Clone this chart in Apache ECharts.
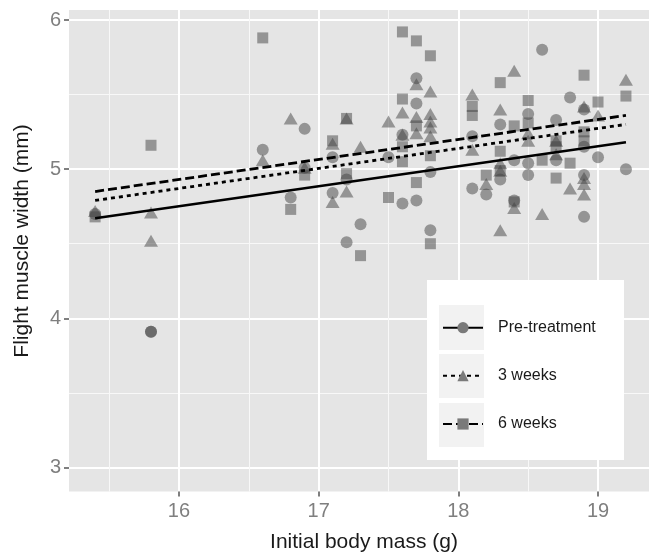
<!DOCTYPE html>
<html>
<head>
<meta charset="utf-8">
<script src="https://cdn.jsdelivr.net/npm/echarts@6/dist/echarts.min.js"></script>
<style>
html,body{margin:0;padding:0;background:#fff;}
#chart{width:649px;height:556px;}
</style>
</head>
<body>
<div id="chart"></div>
<script>
// ---- data ----
const seriesNames = ['Pre-treatment', '3 weeks', '6 weeks'];
const xTicks = [16, 17, 18, 19];
const yTicks = [3, 4, 5, 6];
const xMinor = [15.5, 16.5, 17.5, 18.5];
const yMinor = [3.5, 4.5, 5.5];

const preData = [
  [15.4,4.70],[15.8,3.91],[15.8,3.91],[16.6,5.13],[16.8,4.81],[16.9,5.27],[16.9,5.01],
  [17.1,5.08],[17.1,4.84],[17.2,4.93],[17.2,4.51],[17.3,4.63],[17.5,5.08],
  [17.6,5.23],[17.6,4.77],[17.7,5.61],[17.7,5.44],[17.7,4.79],[17.8,4.98],[17.8,4.59],
  [18.1,5.22],[18.1,4.87],[18.2,4.83],[18.3,5.30],[18.3,4.93],[18.4,5.06],[18.4,4.79],
  [18.5,5.37],[18.5,5.04],[18.5,4.96],[18.6,5.80],[18.7,5.33],[18.7,5.06],[18.8,5.48],
  [18.9,5.40],[18.9,5.15],[18.9,4.96],[18.9,4.68],[19.0,5.08],[19.2,5.00]
];
const week3Data = [
  [15.4,4.72],[15.8,4.71],[15.8,4.52],[16.6,5.06],[16.8,5.34],[16.9,5.01],
  [17.1,5.17],[17.1,4.78],[17.2,5.34],[17.2,4.85],[17.3,5.15],[17.5,5.32],
  [17.6,5.38],[17.6,5.23],[17.7,5.57],[17.7,5.35],[17.7,5.24],
  [17.8,5.52],[17.8,5.37],[17.8,5.32],[17.8,5.28],[17.8,5.22],
  [18.1,5.50],[18.1,5.13],[18.2,4.90],[18.3,5.40],[18.3,5.04],[18.3,4.99],[18.3,4.59],
  [18.4,5.66],[18.4,4.74],[18.5,5.24],[18.5,5.19],[18.6,4.70],[18.7,5.19],[18.7,5.10],
  [18.8,4.87],[18.9,5.42],[18.9,4.94],[18.9,4.90],[18.9,4.83],[19.0,5.36],[19.2,5.60]
];
const week6Data = [
  [15.4,4.68],[15.8,5.16],[16.6,5.88],[16.8,4.73],[16.9,4.96],[17.1,5.19],
  [17.2,5.34],[17.2,4.97],[17.3,4.42],[17.5,4.81],
  [17.6,5.92],[17.6,5.47],[17.6,5.15],[17.6,5.05],[17.7,5.86],[17.7,5.29],[17.7,4.91],
  [17.8,5.76],[17.8,5.09],[17.8,4.50],[18.1,5.42],[18.1,5.36],[18.2,4.96],
  [18.3,5.58],[18.3,5.12],[18.3,4.99],[18.4,5.29],[18.4,4.78],[18.5,5.46],[18.5,5.31],
  [18.6,5.06],[18.7,5.19],[18.7,5.15],[18.7,4.94],[18.8,5.04],
  [18.9,5.63],[18.9,5.25],[18.9,5.19],[19.0,5.45],[19.2,5.49]
];
// fitted lines (end points)
const preFit = [[15.4,4.67],[19.2,5.18]];
const week3Fit = [[15.4,4.79],[19.2,5.30]];
const week6Fit = [[15.4,4.85],[19.2,5.36]];

// ---- chart ----
const FONT = 'Liberation Sans, Arial, Helvetica, sans-serif';
const xMin = 15.213, xMax = 19.365, yMin = 2.838, yMax = 6.067;
const pointColor = 'rgba(64,64,64,0.62)';

const chart = echarts.init(document.getElementById('chart'), null, {renderer: 'canvas'});

function majorAxis(min, max, ticks, isX) {
  return {
    type: 'value', min: min, max: max,
    position: isX ? 'bottom' : 'left',
    axisLine: {show: false},
    axisTick: {show: true, customValues: ticks, length: 5, lineStyle: {color: '#7f7f7f', width: 2}},
    axisLabel: {show: true, customValues: ticks, color: '#7f7f7f', fontSize: 20, fontFamily: FONT,
                margin: isX ? 10 : 8},
    splitLine: {show: true, lineStyle: {color: '#ffffff', width: 2}}
  };
}
function minorAxis(min, max, ticks, isX) {
  return {
    type: 'value', min: min, max: max,
    position: isX ? 'bottom' : 'left',
    axisLine: {show: false},
    axisTick: {show: false, customValues: ticks},
    axisLabel: {show: false},
    splitLine: {show: true, lineStyle: {color: '#f8f8f8', width: 1}}
  };
}

function legendAt(name, top) {
  return {
    data: [name], orient: 'vertical', left: 442, top: top, padding: 0,
    itemWidth: 40, itemHeight: 14, z: 10,
    selectedMode: false,
    textStyle: {fontFamily: FONT, fontSize: 16, color: '#1a1a1a', lineHeight: 16, padding: [0, 0, 0, 10]}
  };
}

const option = {
  animation: false,
  backgroundColor: '#ffffff',
  grid: {left: 69, right: 0, top: 10, bottom: 64.4, show: true, backgroundColor: '#e5e5e5', borderWidth: 0,
         containLabel: false, outerBoundsMode: 'none'},
  xAxis: [minorAxis(xMin, xMax, xMinor, true), majorAxis(xMin, xMax, xTicks, true)],
  yAxis: [minorAxis(yMin, yMax, yMinor, false), majorAxis(yMin, yMax, yTicks, false)],
  legend: [
    legendAt(seriesNames[0], 319.7),
    legendAt(seriesNames[1], 367.7),
    legendAt(seriesNames[2], 416)
  ],
  graphic: [
    {type: 'rect', z: 5, shape: {x: 427, y: 280, width: 197, height: 180}, style: {fill: '#ffffff'}},
    {type: 'rect', z: 6, shape: {x: 439, y: 305, width: 45, height: 45}, style: {fill: '#f2f2f2'}},
    {type: 'rect', z: 6, shape: {x: 439, y: 354, width: 45, height: 44}, style: {fill: '#f2f2f2'}},
    {type: 'rect', z: 6, shape: {x: 439, y: 403, width: 45, height: 44}, style: {fill: '#f2f2f2'}},
    {type: 'text', z: 6, x: 364, y: 542, style: {text: 'Initial body mass (g)', font: '21px ' + FONT, fill: '#1a1a1a', textAlign: 'center', textVerticalAlign: 'middle'}},
    {type: 'text', z: 6, x: 22, y: 241, rotation: Math.PI / 2, style: {text: 'Flight muscle width (mm)', font: '21px ' + FONT, fill: '#1a1a1a', textAlign: 'center', textVerticalAlign: 'middle'}}
  ],
  series: [
    {name: seriesNames[0], type: 'line', xAxisIndex: 1, yAxisIndex: 1, data: preFit, z: 4,
     symbol: 'circle', symbolSize: 11, showSymbol: false,
     itemStyle: {color: '#7a7a7a'}, lineStyle: {color: '#000', width: 2.5, type: 'solid'}},
    {name: seriesNames[1], type: 'line', xAxisIndex: 1, yAxisIndex: 1, data: week3Fit, z: 4,
     symbol: 'triangle', symbolSize: [14, 12], showSymbol: false,
     itemStyle: {color: '#7a7a7a'}, lineStyle: {color: '#000', width: 2.8, type: [4, 4]}},
    {name: seriesNames[2], type: 'line', xAxisIndex: 1, yAxisIndex: 1, data: week6Fit, z: 4,
     symbol: 'rect', symbolSize: 11, showSymbol: false,
     itemStyle: {color: '#7a7a7a'}, lineStyle: {color: '#000', width: 2.8, type: [9, 4]}},
    {name: seriesNames[0], type: 'scatter', xAxisIndex: 1, yAxisIndex: 1, data: preData, z: 2,
     symbol: 'circle', symbolSize: 12, itemStyle: {color: pointColor}},
    {name: seriesNames[1], type: 'scatter', xAxisIndex: 1, yAxisIndex: 1, data: week3Data, z: 2,
     symbol: 'triangle', symbolSize: [14, 12], itemStyle: {color: pointColor}},
    {name: seriesNames[2], type: 'scatter', xAxisIndex: 1, yAxisIndex: 1, data: week6Data, z: 2,
     symbol: 'rect', symbolSize: 11, itemStyle: {color: pointColor}}
  ]
};
chart.setOption(option);
</script>
</body>
</html>
